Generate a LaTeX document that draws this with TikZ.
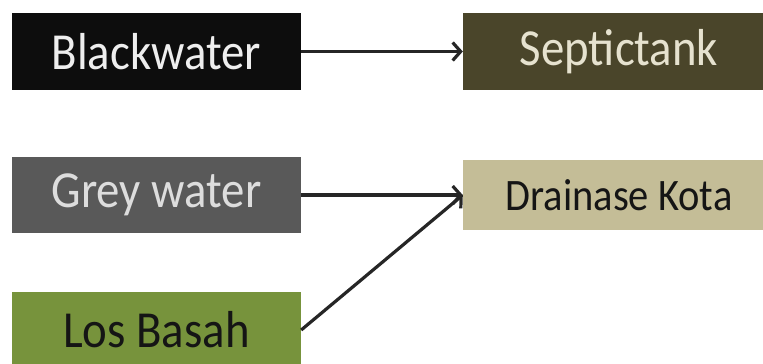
\documentclass[tikz,border=0pt]{standalone}
\usepackage{fontspec}
\setmainfont{Carlito}[FakeStretch=0.9]
\usetikzlibrary{arrows.meta}
\definecolor{blackfill}{HTML}{0D0D0D}
\definecolor{blacktext}{HTML}{EEEEEE}
\definecolor{septicfill}{HTML}{4A452A}
\definecolor{septictext}{HTML}{E6E2CF}
\definecolor{greyfill}{HTML}{595959}
\definecolor{greytext}{HTML}{DDDDDD}
\definecolor{drainfill}{HTML}{C4BD97}
\definecolor{basahfill}{HTML}{77933C}
\definecolor{darktext}{HTML}{151515}
\definecolor{arrowcol}{HTML}{262626}
\tikzstyle{box}=[rectangle,inner sep=0pt]
\tikzstyle{edge} = [draw,line width=3.2pt,arrowcol,-{Straight Barb[length=8pt,width=18pt]}]

\begin{document}
\begin{tikzpicture}[x=1pt,y=-1pt]
    \useasboundingbox (0,0) rectangle (763,364);
    \clip (0,0) rectangle (763,364);
    % kotak
    \foreach \pos/\name/\w/\h/\fs/\fc/\tc/\txt in {{(156.5,51.5)/black/289/77/52/blackfill/blacktext/Blackwater}, {(619,51.5)/septic/312/77/52/septicfill/septictext/Septictank}, {(156.5,195)/grey/289/76/52/greyfill/greytext/Grey water}, {(619,195)/drain/312/70/45/drainfill/darktext/Drainase Kota}, {(156.5,330)/basah/289/76/52/basahfill/darktext/Los Basah}}
        \node[box,fill=\fc,text=\tc,minimum width=\w pt,minimum height=\h pt,font=\fontsize{\fs}{\fs}\selectfont] (\name) at \pos {\txt};
    % panah
    \foreach \source/\dest in {black/septic, grey/drain, basah/drain}
        \path[edge] (\source.east) -- (\dest.west);
\end{tikzpicture}
\end{document}
